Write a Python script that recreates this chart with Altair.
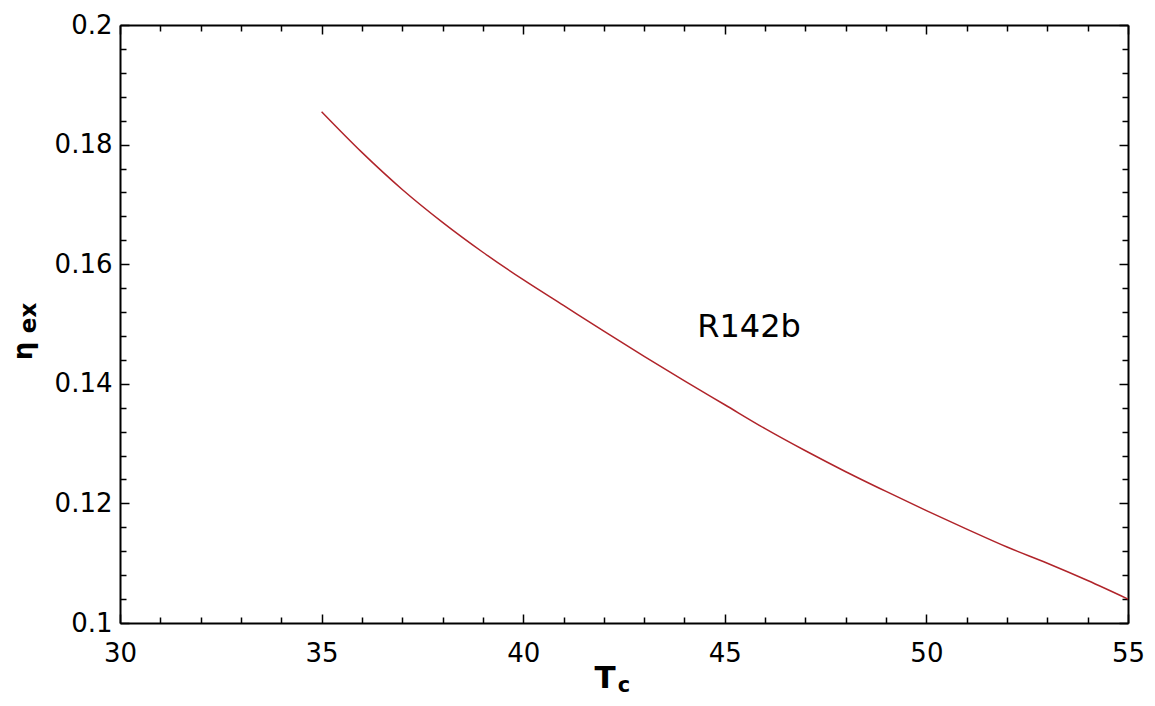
import altair as alt
import pandas as pd

# ---- data ----
tc = [35, 36, 37, 38, 39, 40, 41, 42, 43, 44, 45,
      46, 47, 48, 49, 50, 51, 52, 53, 54, 55]
eta_ex = [0.1855, 0.1787, 0.1725, 0.1670, 0.1620, 0.1574, 0.1531, 0.1488,
          0.1446, 0.1405, 0.1365, 0.1325, 0.1288, 0.1253, 0.1220, 0.1188,
          0.1157, 0.1127, 0.1100, 0.1071, 0.1040]

x_major = [30, 35, 40, 45, 50, 55]
x_minor = [31, 32, 33, 34, 36, 37, 38, 39, 41, 42, 43, 44,
           46, 47, 48, 49, 51, 52, 53, 54]
y_major = [0.1, 0.12, 0.14, 0.16, 0.18, 0.2]
y_minor = [0.104, 0.108, 0.112, 0.116, 0.124, 0.128, 0.132, 0.136,
           0.144, 0.148, 0.152, 0.156, 0.164, 0.168, 0.172, 0.176,
           0.184, 0.188, 0.192, 0.196]

label_text = ["R142b"]
label_x = [45.6]
label_y = [0.1478]

df = pd.DataFrame({"Tc": tc, "eta": eta_ex})
ann = pd.DataFrame({"x": label_x, "y": label_y, "t": label_text})

FONT = "DejaVu Sans"
xs = alt.Scale(domain=[30, 55], nice=False, zero=False)
ys = alt.Scale(domain=[0.1, 0.2], nice=False, zero=False)

base = alt.Chart(df)

line = base.mark_line(color="#b0242a", strokeWidth=1.5, interpolate="monotone").encode(
    x=alt.X("Tc:Q", scale=xs, axis=alt.Axis(
        values=x_major, title=None, ticks=False, tickSize=0, domain=True,
        domainColor="black", domainWidth=2,
        grid=False, labelFont=FONT, labelFontSize=26, labelColor="black",
        labelPadding=17, labelFlush=False, labelOverlap=False, format="d")),
    y=alt.Y("eta:Q", scale=ys, axis=alt.Axis(
        values=y_major, title=None, ticks=False, tickSize=0, domain=True,
        domainColor="black", domainWidth=2,
        grid=False, labelFont=FONT, labelFontSize=26, labelColor="black",
        labelPadding=8, labelFlush=False, labelOverlap=False, format="~g")),
)


def tick_layer(xorient, yorient, xvals, yvals, size):
    return base.mark_line(opacity=0).encode(
        x=alt.X("Tc:Q", scale=xs, axis=alt.Axis(
            orient=xorient, values=xvals, labels=False, domain=False,
            grid=False, title=None, ticks=True, tickSize=size, offset=-size,
            tickColor="black", tickWidth=1.5)),
        y=alt.Y("eta:Q", scale=ys, axis=alt.Axis(
            orient=yorient, values=yvals, labels=False, domain=False,
            grid=False, title=None, ticks=True, tickSize=size, offset=-size,
            tickColor="black", tickWidth=1.5)),
    )


t1 = tick_layer("bottom", "left", x_major, y_major, 9)
t2 = tick_layer("bottom", "left", x_minor, y_minor, 6)
t3 = tick_layer("top", "right", x_major, y_major, 9)
t4 = tick_layer("top", "right", x_minor, y_minor, 6)

# top and right frame lines
frame = base.mark_line(opacity=0).encode(
    x=alt.X("Tc:Q", scale=xs, axis=alt.Axis(
        orient="top", values=x_major, labels=False, ticks=False, grid=False,
        title=None, domain=True, domainColor="black", domainWidth=2)),
    y=alt.Y("eta:Q", scale=ys, axis=alt.Axis(
        orient="right", values=y_major, labels=False, ticks=False, grid=False,
        title=None, domain=True, domainColor="black", domainWidth=2)),
)

label = alt.Chart(ann).mark_text(
    font=FONT, fontSize=32, align="center", baseline="alphabetic", color="black"
).encode(
    x=alt.X("x:Q", scale=xs, axis=None),
    y=alt.Y("y:Q", scale=ys, axis=None),
    text="t:N",
)

xt_T = alt.Chart(ann).mark_text(
    text="T", font=FONT, fontSize=31, fontWeight="bold", align="center",
    baseline="alphabetic", color="black"
).encode(x=alt.value(485), y=alt.value(663))
xt_c = alt.Chart(ann).mark_text(
    text="c", font=FONT, fontSize=21, fontWeight="bold", align="center",
    baseline="alphabetic", color="black"
).encode(x=alt.value(504), y=alt.value(667))

yt_eta = alt.Chart(ann).mark_text(
    text="η", font=FONT, fontSize=26, fontWeight="bold", align="center",
    baseline="alphabetic", angle=270, color="black"
).encode(x=alt.value(-88), y=alt.value(326))
yt_ex = alt.Chart(ann).mark_text(
    text="ex", font=FONT, fontSize=23, fontWeight="bold", align="center",
    baseline="alphabetic", angle=270, color="black"
).encode(x=alt.value(-84), y=alt.value(293))

chart = alt.layer(
    line, t1, t2, t3, t4, frame, label, xt_T, xt_c, yt_eta, yt_ex
).resolve_axis(
    x="independent", y="independent"
).properties(
    width=1008, height=598,
    autosize=alt.AutoSizeParams(type="none"),
    padding={"left": 112, "top": 17, "right": 19, "bottom": 75},
).configure_view(
    stroke=None
).configure(background="white")

chart.save("out.html", embed_options={"renderer": "svg", "actions": False})
